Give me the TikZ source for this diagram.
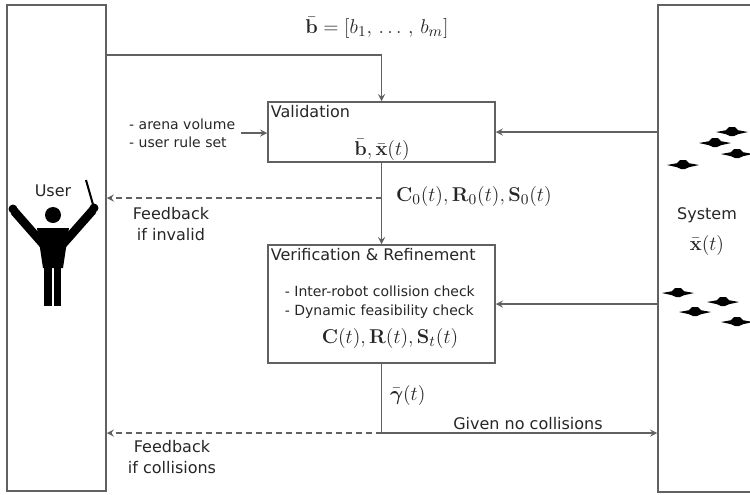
\documentclass[tikz,border=0pt]{standalone}
\usepackage{amsmath}
\usepackage[no-math]{fontspec}
\setmainfont{DejaVu Sans}
\tikzset{
  drone/.pic={\fill[black] (-16,0) -- (-6,-1.8) -- (-3,-5) -- (3,-5) -- (6,-1.8) -- (16,0) -- (6,2.2) -- (2,4) -- (-2,4) -- (-6,2.2) -- cycle;}
}
\begin{document}
\begin{tikzpicture}[x=0.6pt,y=-0.6pt,
    line/.style={draw=black!62,line width=0.9pt},
    box/.style={draw=black!62,line width=0.9pt,rectangle,inner sep=0pt},
    flow/.style={line,->,>=stealth},
    fback/.style={line,dash pattern=on 3.6pt off 2.4pt,->,>=stealth},
    lbl/.style={font=\fontsize{9.6}{13}\selectfont,text=black!85},
    small/.style={font=\fontsize{8.4}{11}\selectfont,text=black!85,align=left},
    mth/.style={font=\fontsize{13}{15}\selectfont,text=black!85,inner sep=1pt}]
    \useasboundingbox (0,0) rectangle (750,494);
    \clip (0,0) rectangle (750,494);
    % Boxes
    \node[box,minimum width=59.4pt,minimum height=291.6pt] (user) at (56.5,248) {};
    \node[box,minimum width=61.2pt,minimum height=292.2pt] (sys) at (709,248.5) {};
    \node[box,minimum width=136.2pt,minimum height=36pt] (valid) at (381.5,132) {};
    \node[box,minimum width=136.2pt,minimum height=70.8pt] (verif) at (381.5,304) {};
    % Texts
    \node[mth,font=\fontsize{12.5}{15}\selectfont] (bvec) at (377,28) {$\bar{\mathbf{b}} = [b_1,\,\ldots\,,\,b_m]$};
    \node[lbl,anchor=north west,inner sep=2pt] (vtitle) at (valid.north west) {Validation};
    \node[mth] (vstate) at (382,150) {$\bar{\mathbf{b}}, \bar{\mathbf{x}}(t)$};
    \node[small,anchor=east] (rules) at (241,133) {- arena volume\\- user rule set};
    \node[mth,anchor=west] (czero) at (394,196) {$\mathbf{C}_0(t),\mathbf{R}_0(t),\mathbf{S}_0(t)$};
    \node[lbl,align=center] (fbinv) at (171,224) {Feedback\\if invalid};
    \node[lbl,anchor=north west,inner sep=2pt] (wtitle) at (verif.north west) {Verification \& Refinement};
    \node[small,anchor=west] (checks) at (279,302) {- Inter-robot collision check\\- Dynamic feasibility check};
    \node[mth] (cstate) at (390,338) {$\mathbf{C}(t),\mathbf{R}(t),\mathbf{S}_t(t)$};
    \node[mth,anchor=west] (gam) at (388,395) {$\bar{\boldsymbol{\gamma}}(t)$};
    \node[lbl] (given) at (528,424) {Given no collisions};
    \node[lbl,align=center] (fbcol) at (172,457) {Feedback\\if collisions};
    \node[lbl] (ulabel) at (53,191) {User};
    \node[lbl,inner sep=1pt] (slabel) at (707,215) {System};
    \node[mth] (sstate) at (707,245) {$\bar{\mathbf{x}}(t)$};
    % Corners of the connectors
    \coordinate (btop) at (381.5,55);
    \coordinate (fbone) at (381.5,198);
    \coordinate (split) at (381.5,433);
    % Connectors
    \draw[flow] (user.east |- btop) -- (btop) -- (valid.north);
    \draw[flow] (sys.west |- valid.east) -- (valid.east);
    \draw[flow] (rules.east) -- (valid.west |- rules.east);
    \draw[fback] (fbone) -- (user.east |- fbone);
    \draw[flow] (valid.south) -- (verif.north);
    \draw[flow] (sys.west |- verif.east) -- (verif.east);
    \draw[flow] (verif.south) -- (split) -- (sys.west |- split);
    \draw[fback] (split) -- (user.east |- split);
    % Conductor
    \fill[black] (53,215) circle (8);
    \fill[black] (13,209) circle (4.5);
    \fill[black] (94,208) circle (4.5);
    \draw[black,line width=1.2pt] (94,208) -- (86,180);
    \draw[black,line width=5.2pt] (14,211) -- (43,244);
    \draw[black,line width=5.2pt] (93,210) -- (63,244);
    \fill[black] (37,228) -- (69,228) -- (63,268) -- (43,268) -- cycle;
    \fill[black] (44,266) rectangle (52,306);
    \fill[black] (54,266) rectangle (61,306);
    % Drones
    \pic at (732,132) {drone};
    \pic at (715,143) {drone};
    \pic at (737,154) {drone};
    \pic at (683,165) {drone};
    \pic at (678,293) {drone};
    \pic at (723,302) {drone};
    \pic at (695,312) {drone};
    \pic at (737,322) {drone};
\end{tikzpicture}
\end{document}
